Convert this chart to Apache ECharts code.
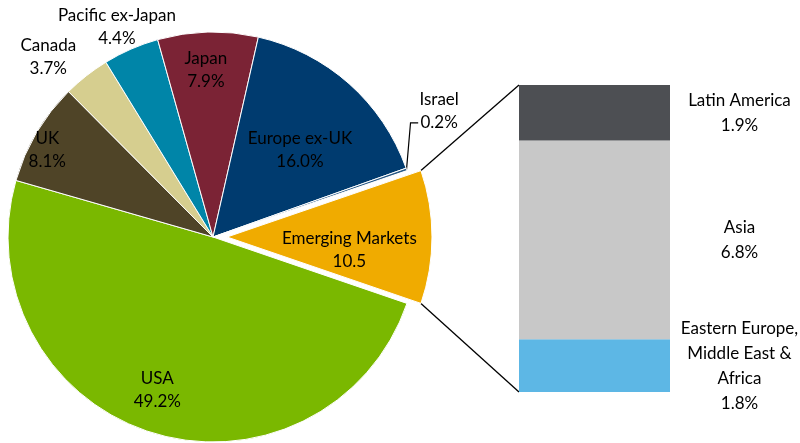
<!DOCTYPE html>
<html>
<head>
<meta charset="utf-8">
<script src="https://cdn.jsdelivr.net/npm/echarts@6/dist/echarts.min.js"></script>
<style>
  html, body { margin: 0; padding: 0; background: #fff; }
  #main { width: 800px; height: 443px; }
</style>
</head>
<body>
<div id="main"></div>
<script>
// pie: regions, in drawing order (clockwise, starting with the exploded slice)
var regions = ['Emerging Markets', 'USA', 'UK', 'Canada', 'Pacific ex-Japan', 'Japan', 'Europe ex-UK', 'Israel'];
var weights = [10.5, 49.2, 8.1, 3.7, 4.4, 7.9, 16.0, 0.2];

// bar: split of Emerging Markets, bottom to top
var emRegions = ['Eastern Europe,\nMiddle East &\nAfrica', 'Asia', 'Latin America'];
var emWeights = [1.8, 6.8, 1.9];

var regionColors = ['#F0AB00', '#7AB800', '#4F4427', '#D6CE8F', '#0085A8', '#7B2335', '#003B6F', '#2A5A86'];
var emColors = ['#5DB7E5', '#C8C8C8', '#4D4F53'];

var pieCenter = [213, 237];
var pieR = 205;
var explode = 14;
var gridLeft = 519, gridTop = 85, gridW = 151, gridH = 307;

// where each label sits: radius from centre and angle nudge (deg)
var labelSpot = {
    'Emerging Markets': { r: 123, da: -6 },
    'USA': { r: 163, da: -2.5 },
    'UK': { r: 187, da: 3 },
    'Canada': { r: 244, da: 4.3 },
    'Pacific ex-Japan': { r: 231, da: 1 },
    'Japan': { r: 167, da: 1 },
    'Europe ex-UK': { r: 123, da: -3.4 },
    'Israel': { r: 259, da: 9.9 }
};

var font = 'Lato, "Noto Sans", sans-serif';
var total = 0;
weights.forEach(function (v) { total += v; });
var startAngle = weights[0] / total * 180;

// mid angle of each slice, degrees, counterclockwise from east
var midAngles = [];
(function () {
    var a = startAngle;
    weights.forEach(function (v) {
        var span = v / total * 360;
        midAngles.push(a - span / 2);
        a -= span;
    });
})();

function pct(v, i) {
    return i === 0 ? v.toFixed(1) : v.toFixed(1) + '%';
}

function pieData(isExploded) {
    return regions.map(function (name, i) {
        var mine = isExploded ? i === 0 : i !== 0;
        return {
            name: name,
            value: weights[i],
            itemStyle: {
                color: mine ? regionColors[i] : 'rgba(0,0,0,0)',
                borderColor: mine ? '#fff' : 'rgba(0,0,0,0)',
                borderWidth: mine ? 1 : 0
            },
            label: { show: mine, position: name === 'Israel' ? 'outside' : 'inside' },
            labelLine: { show: mine && name === 'Israel', length: 10, length2: 10 }
        };
    });
}

function makeLayout(cx, cy) {
    return function (params) {
        var name = regions[params.dataIndex];
        var spot = labelSpot[name];
        var a = (midAngles[params.dataIndex] + spot.da) * Math.PI / 180;
        var lx = cx + spot.r * Math.cos(a);
        var ly = cy - spot.r * Math.sin(a);
        var out = { x: lx, y: ly, align: 'center', verticalAlign: 'middle' };
        if (name === 'Israel') {
            // elbow leader: up from the slice edge, then across to the value line
            var m = midAngles[params.dataIndex] * Math.PI / 180;
            var sx = cx + pieR * Math.cos(m), sy = cy - pieR * Math.sin(m);
            out.labelLinePoints = [[sx, sy], [sx + 4, ly + 12], [lx - 21, ly + 12]];
        }
        return out;
    };
}

var pieCommon = {
    type: 'pie',
    radius: pieR,
    startAngle: startAngle,
    clockwise: true,
    avoidLabelOverlap: false,
    animation: false,
    label: {
        formatter: function (p) { return p.name + '\n' + pct(p.value, p.dataIndex); },
        color: '#000',
        fontFamily: font,
        fontSize: 17,
        lineHeight: 23
    },
    labelLine: { lineStyle: { color: '#000', width: 1.2 } },
    emphasis: { disabled: true }
};

var series = [
    echarts.util.merge({
        center: pieCenter,
        data: pieData(false),
        labelLayout: makeLayout(pieCenter[0], pieCenter[1])
    }, pieCommon),
    echarts.util.merge({
        center: [pieCenter[0] + explode, pieCenter[1]],
        data: pieData(true),
        labelLayout: makeLayout(pieCenter[0] + explode, pieCenter[1])
    }, pieCommon)
];

emRegions.forEach(function (name, i) {
    series.push({
        type: 'bar',
        name: name,
        stack: 'em',
        barWidth: '100%',
        animation: false,
        data: [emWeights[i]],
        itemStyle: { color: emColors[i] },
        label: {
            show: true,
            position: ['146%', '50%'],
            align: 'center',
            verticalAlign: 'middle',
            formatter: function (p) { return p.seriesName + '\n' + p.value.toFixed(1) + '%'; },
            color: '#000',
            fontFamily: font,
            fontSize: 17,
            lineHeight: 25
        },
        emphasis: { disabled: true }
    });
});

var emTotal = 0;
emWeights.forEach(function (v) { emTotal += v; });

var dom = document.getElementById('main');
var myChart = echarts.init(dom, null, { renderer: 'canvas' });
var option = {
    backgroundColor: '#fff',
    animation: false,
    grid: { left: gridLeft, top: gridTop, width: gridW, height: gridH },
    xAxis: { type: 'category', data: ['Emerging Markets'], show: false },
    yAxis: { type: 'value', min: 0, max: emTotal, show: false },
    series: series
};
myChart.setOption(option);

// connector lines from the exploded slice to the bar
var half = startAngle * Math.PI / 180;
var ex = pieCenter[0] + explode, ey = pieCenter[1];
var topPie = [ex + pieR * Math.cos(half), ey - pieR * Math.sin(half)];
var botPie = [ex + pieR * Math.cos(half), ey + pieR * Math.sin(half)];
var barTopY = myChart.convertToPixel({ yAxisIndex: 0 }, emTotal);
var barBotY = myChart.convertToPixel({ yAxisIndex: 0 }, 0);
myChart.setOption({
    graphic: [
        { type: 'line', shape: { x1: topPie[0], y1: topPie[1], x2: gridLeft, y2: barTopY }, style: { stroke: '#000', lineWidth: 1.3 } },
        { type: 'line', shape: { x1: botPie[0], y1: botPie[1], x2: gridLeft, y2: barBotY }, style: { stroke: '#000', lineWidth: 1.3 } }
    ]
});
</script>
</body>
</html>
